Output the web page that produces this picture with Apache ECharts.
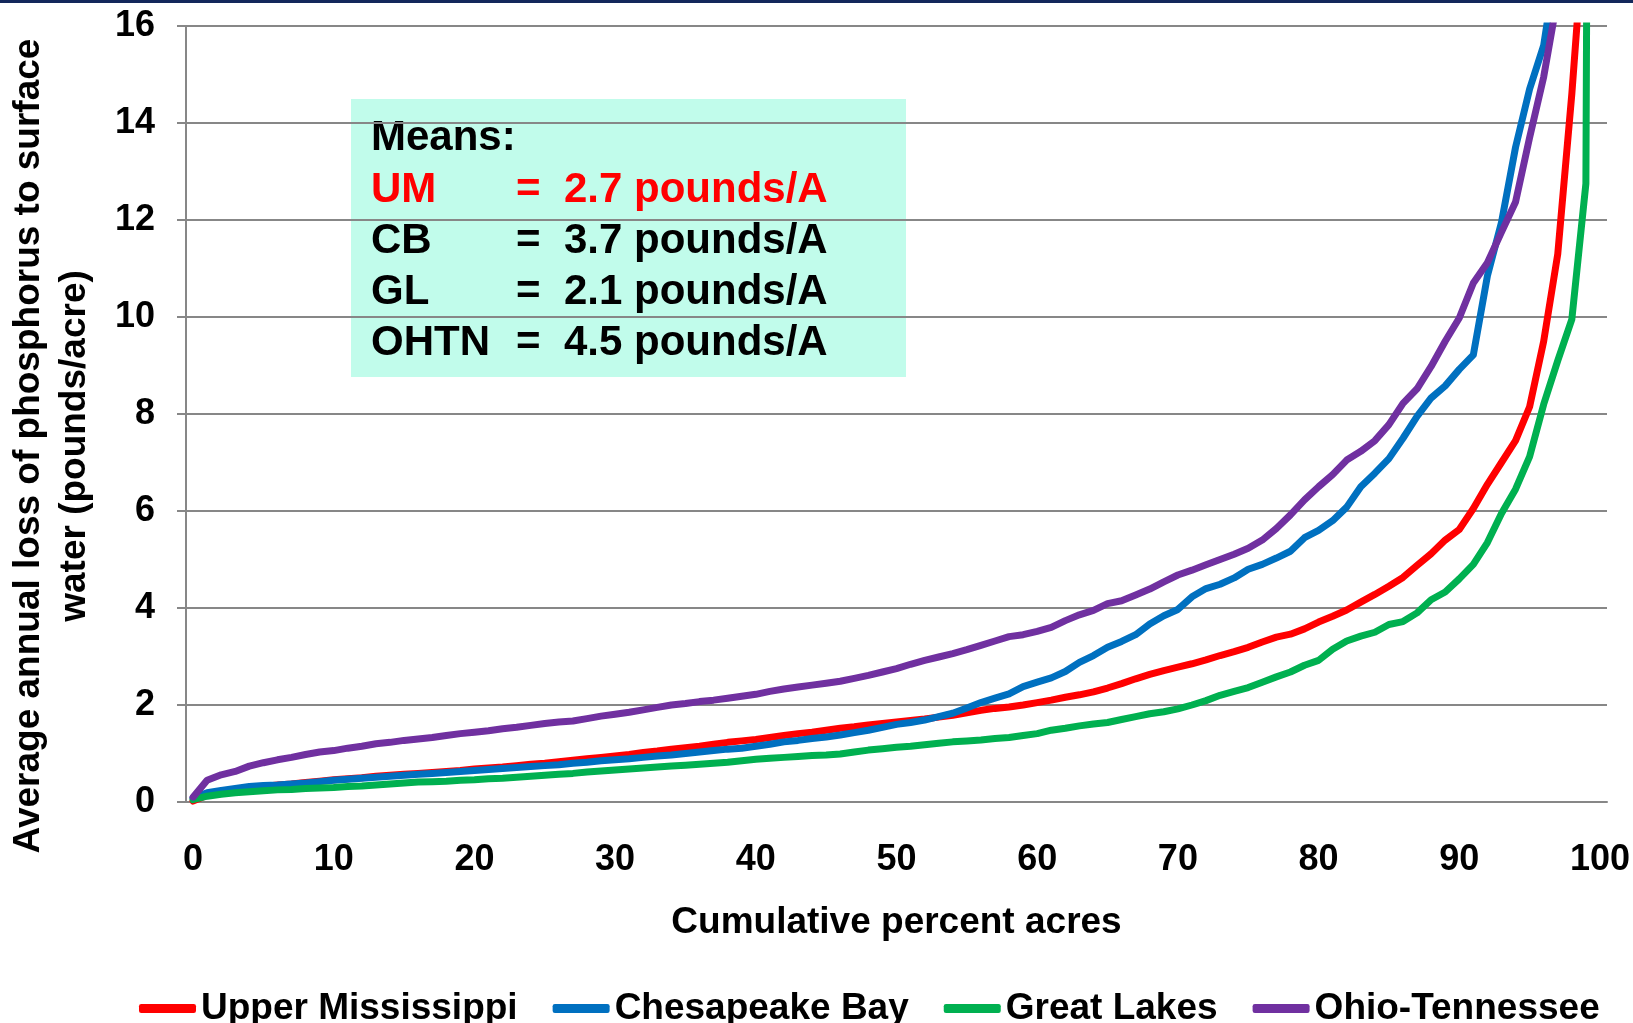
<!DOCTYPE html>
<html>
<head>
<meta charset="utf-8">
<title>Average annual loss of phosphorus to surface water</title>
<script src="https://cdn.jsdelivr.net/npm/echarts@6/dist/echarts.min.js"></script>
<style>
  html, body { margin: 0; padding: 0; background: #fff; }
  #chart { width: 1633px; height: 1023px; }
</style>
</head>
<body>
<div id="chart"></div>
<script>
// cumulative percent of acres, one category per percent
const percentAcres = Array.from({ length: 101 }, (_, i) => i)

// pounds/acre at each percent (values above 16 run off the top)
const upperMississippi = [
  0.02, 0.14, 0.20, 0.25, 0.29, 0.32, 0.35, 0.37, 0.40, 0.43,
  0.46, 0.48, 0.50, 0.53, 0.55, 0.57, 0.59, 0.61, 0.63, 0.65,
  0.68, 0.70, 0.72, 0.75, 0.78, 0.80, 0.83, 0.86, 0.89, 0.92,
  0.95, 0.98, 1.02, 1.05, 1.09, 1.12, 1.15, 1.19, 1.23, 1.26,
  1.29, 1.33, 1.37, 1.41, 1.44, 1.48, 1.52, 1.55, 1.59, 1.62,
  1.65, 1.68, 1.71, 1.75, 1.79, 1.84, 1.89, 1.93, 1.96, 2.00,
  2.05, 2.10, 2.16, 2.21, 2.27, 2.35, 2.44, 2.54, 2.63, 2.71,
  2.78, 2.85, 2.93, 3.02, 3.10, 3.19, 3.30, 3.40, 3.46, 3.57,
  3.71, 3.83, 3.96, 4.12, 4.28, 4.45, 4.63, 4.88, 5.12, 5.40,
  5.62, 6.05, 6.55, 7.00, 7.45, 8.15, 9.50, 11.30, 14.60, 18.50,
  40
]
const chesapeakeBay = [
  0.08, 0.19, 0.24, 0.28, 0.32, 0.34, 0.35, 0.37, 0.39, 0.42,
  0.45, 0.47, 0.49, 0.51, 0.53, 0.55, 0.57, 0.59, 0.61, 0.63,
  0.65, 0.67, 0.69, 0.71, 0.73, 0.75, 0.77, 0.80, 0.82, 0.85,
  0.87, 0.89, 0.92, 0.95, 0.97, 1.00, 1.03, 1.06, 1.09, 1.11,
  1.15, 1.19, 1.24, 1.27, 1.31, 1.34, 1.38, 1.43, 1.48, 1.54,
  1.60, 1.64, 1.69, 1.76, 1.83, 1.94, 2.05, 2.14, 2.23, 2.38,
  2.47, 2.56, 2.69, 2.88, 3.02, 3.19, 3.31, 3.45, 3.67, 3.84,
  3.97, 4.23, 4.40, 4.49, 4.62, 4.80, 4.90, 5.03, 5.17, 5.45,
  5.60, 5.80, 6.08, 6.50, 6.78, 7.08, 7.50, 7.95, 8.33, 8.58,
  8.92, 9.22, 10.85, 11.95, 13.50, 14.70, 15.60, 17.50, 22.00, 30.00,
  50
]
const greatLakes = [
  0.05, 0.12, 0.16, 0.19, 0.21, 0.23, 0.25, 0.26, 0.28, 0.29,
  0.30, 0.32, 0.33, 0.35, 0.37, 0.39, 0.41, 0.42, 0.43, 0.45,
  0.46, 0.48, 0.49, 0.51, 0.53, 0.55, 0.57, 0.59, 0.62, 0.64,
  0.66, 0.68, 0.70, 0.72, 0.74, 0.76, 0.78, 0.80, 0.82, 0.85,
  0.88, 0.90, 0.92, 0.94, 0.96, 0.97, 0.99, 1.03, 1.07, 1.10,
  1.13, 1.15, 1.18, 1.21, 1.24, 1.26, 1.28, 1.31, 1.33, 1.37,
  1.41, 1.48, 1.52, 1.57, 1.61, 1.64, 1.70, 1.76, 1.82, 1.86,
  1.92, 2.00, 2.09, 2.20, 2.28, 2.36, 2.47, 2.58, 2.68, 2.82,
  2.92, 3.15, 3.32, 3.42, 3.50, 3.66, 3.72, 3.90, 4.17, 4.33,
  4.60, 4.90, 5.35, 5.95, 6.45, 7.12, 8.20, 9.10, 9.95, 12.75,
  80
]
const ohioTennessee = [
  0.10, 0.45, 0.56, 0.63, 0.74, 0.81, 0.87, 0.92, 0.98, 1.03,
  1.06, 1.11, 1.15, 1.20, 1.23, 1.27, 1.30, 1.33, 1.37, 1.41,
  1.44, 1.47, 1.51, 1.54, 1.58, 1.62, 1.65, 1.67, 1.72, 1.77,
  1.81, 1.85, 1.90, 1.95, 2.00, 2.03, 2.07, 2.10, 2.14, 2.18,
  2.22, 2.28, 2.33, 2.37, 2.41, 2.45, 2.49, 2.55, 2.61, 2.68,
  2.75, 2.84, 2.92, 2.99, 3.06, 3.14, 3.23, 3.32, 3.41, 3.45,
  3.52, 3.60, 3.74, 3.86, 3.95, 4.09, 4.15, 4.27, 4.39, 4.54,
  4.68, 4.78, 4.89, 5.00, 5.11, 5.23, 5.40, 5.64, 5.92, 6.23,
  6.50, 6.75, 7.05, 7.23, 7.45, 7.78, 8.22, 8.52, 8.98, 9.50,
  9.98, 10.70, 11.12, 11.75, 12.37, 13.70, 14.95, 16.60, 20.00, 30.00,
  45
]

const seriesNames = ['Upper Mississippi', 'Chesapeake Bay', 'Great Lakes', 'Ohio-Tennessee']
const seriesColors = ['#FF0000', '#0070C0', '#00B050', '#7030A0']
const seriesData = [upperMississippi, chesapeakeBay, greatLakes, ohioTennessee]

// the "Means" box
const meanLabels = ['UM', 'CB', 'GL', 'OHTN']
const meanValues = ['2.7', '3.7', '2.1', '4.5']
const meanColors = ['#FF0000', '#000000', '#000000', '#000000']

const FONT = 'Arial, "Liberation Sans", sans-serif'
const GRID_GRAY = '#878787'

const chart = echarts.init(document.getElementById('chart'))

// text elements of the means box
const meanTexts = [{
  type: 'text', left: 371, top: 117,
  style: { text: 'Means:', font: `bold 42px ${FONT}`, fill: '#000' }
}]
meanLabels.forEach((label, i) => {
  const top = 169 + i * 51
  const style = { font: `bold 42px ${FONT}`, fill: meanColors[i] }
  meanTexts.push({ type: 'text', left: 371, top, style: { ...style, text: label } })
  meanTexts.push({ type: 'text', left: 516, top, style: { ...style, text: '=' } })
  meanTexts.push({ type: 'text', left: 564, top, style: { ...style, text: `${meanValues[i]} pounds/A` } })
})

const option = {
  animation: false,
  backgroundColor: '#fff',
  grid: { left: 186, right: 26, top: 26, bottom: 221, containLabel: false },
  legend: {
    data: seriesNames,
    left: 134,
    top: 985,
    icon: 'roundRect',
    itemWidth: 57,
    itemHeight: 9,
    itemGap: 35,
    textStyle: { fontSize: 37, fontWeight: 'bold', color: '#000', fontFamily: FONT }
  },
  xAxis: {
    type: 'category',
    data: percentAcres,
    boundaryGap: true,
    name: 'Cumulative percent acres',
    nameLocation: 'middle',
    nameGap: 102,
    nameTextStyle: { fontSize: 37, fontWeight: 'bold', color: '#000', fontFamily: FONT },
    axisLine: { lineStyle: { color: GRID_GRAY, width: 2 } },
    axisTick: { interval: 4, length: 11, lineStyle: { color: GRID_GRAY, width: 2 } },
    axisLabel: { interval: 9, margin: 40, fontSize: 36, fontWeight: 'bold', color: '#000', fontFamily: FONT }
  },
  yAxis: {
    type: 'value',
    min: 0,
    max: 16,
    interval: 2,
    axisLine: { show: true, lineStyle: { color: GRID_GRAY, width: 2 } },
    axisTick: { show: true, length: 9, lineStyle: { color: GRID_GRAY, width: 2 } },
    splitLine: { lineStyle: { color: GRID_GRAY, width: 2 } },
    axisLabel: { margin: 31, fontSize: 36, fontWeight: 'bold', color: '#000', fontFamily: FONT }
  },
  series: seriesNames.map((name, i) => ({
    name,
    type: 'line',
    data: seriesData[i],
    symbol: 'none',
    clip: true,
    color: seriesColors[i],
    lineStyle: { width: 7, color: seriesColors[i], cap: 'round', join: 'round' }
  })),
  graphic: [
    // dark band along the top edge
    { type: 'rect', left: 0, top: 0, shape: { width: 1633, height: 3 }, style: { fill: '#13275B' } },
    // y axis title, two lines, reading bottom to top
    {
      type: 'text',
      x: 52, y: 446,
      rotation: Math.PI / 2,
      style: {
        text: 'Average annual loss of phosphorus to surface\nwater (pounds/acre)',
        font: `bold 37px ${FONT}`,
        lineHeight: 46,
        fill: '#000',
        align: 'center',
        verticalAlign: 'middle'
      }
    },
    {
      type: 'group',
      z: 100,
      children: [
        { type: 'rect', left: 351, top: 99, shape: { width: 555, height: 278 }, style: { fill: '#C1FCEB' } },
        ...meanTexts
      ]
    }
  ]
}

chart.setOption(option)
window.addEventListener('resize', () => chart.resize())
</script>
</body>
</html>
